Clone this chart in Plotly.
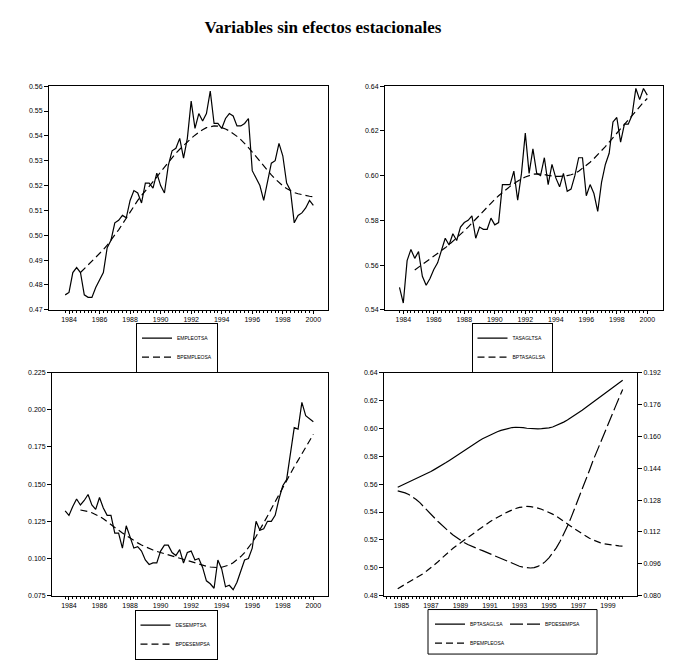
import plotly.graph_objects as go

# ---------------- data ----------------
quarters = [1983.75 + 0.25 * i for i in range(66)]   # quarterly dates 1983.75 .. 2000.00
trend_quarters = quarters[4:]                         # 1984.75 .. 2000.00

empleo_tsa = [0.476, 0.477, 0.485, 0.487, 0.485, 0.476, 0.475, 0.475, 0.479, 0.482,
              0.485, 0.495, 0.498, 0.505, 0.506, 0.508, 0.507, 0.514, 0.518, 0.517,
              0.513, 0.521, 0.521, 0.519, 0.525, 0.520, 0.517, 0.528, 0.534, 0.535,
              0.539, 0.531, 0.539, 0.554, 0.543, 0.549, 0.546, 0.549, 0.558, 0.545,
              0.545, 0.543, 0.547, 0.549, 0.548, 0.544, 0.544, 0.545, 0.547, 0.526,
              0.523, 0.520, 0.514, 0.522, 0.529, 0.530, 0.537, 0.532, 0.521, 0.518,
              0.505, 0.508, 0.509, 0.511, 0.514, 0.512]

bp_empleo = [0.4850, 0.4865, 0.4880, 0.4895, 0.4910, 0.4925, 0.4942, 0.4960, 0.4980, 0.5000,
             0.5022, 0.5045, 0.5070, 0.5095, 0.5118, 0.5140, 0.5160, 0.5178, 0.5196, 0.5214,
             0.5234, 0.5255, 0.5275, 0.5295, 0.5313, 0.5330, 0.5346, 0.5362, 0.5377, 0.5390,
             0.5403, 0.5415, 0.5425, 0.5433, 0.5438, 0.5440, 0.5439, 0.5435, 0.5428, 0.5420,
             0.5410, 0.5398, 0.5385, 0.5370, 0.5353, 0.5335, 0.5316, 0.5297, 0.5278, 0.5260,
             0.5243, 0.5227, 0.5212, 0.5199, 0.5188, 0.5179, 0.5172, 0.5167, 0.5163, 0.5160,
             0.5157, 0.5155]

tasagl_tsa = [0.550, 0.543, 0.562, 0.567, 0.563, 0.566, 0.555, 0.551, 0.554, 0.558,
              0.561, 0.566, 0.572, 0.569, 0.574, 0.571, 0.577, 0.579, 0.580, 0.582,
              0.572, 0.577, 0.576, 0.576, 0.581, 0.578, 0.579, 0.596, 0.596, 0.596,
              0.602, 0.589, 0.601, 0.619, 0.601, 0.612, 0.601, 0.600, 0.608, 0.596,
              0.605, 0.599, 0.595, 0.601, 0.593, 0.594, 0.600, 0.608, 0.608, 0.591,
              0.596, 0.592, 0.584, 0.597, 0.605, 0.610, 0.624, 0.626, 0.615, 0.623,
              0.623, 0.627, 0.639, 0.634, 0.639, 0.636]

bp_tasagl = [0.5578, 0.5590, 0.5602, 0.5614, 0.5626, 0.5638, 0.5650, 0.5663, 0.5677, 0.5691,
             0.5706, 0.5720, 0.5736, 0.5753, 0.5770, 0.5788, 0.5807, 0.5825, 0.5843, 0.5861,
             0.5878, 0.5894, 0.5910, 0.5925, 0.5939, 0.5952, 0.5964, 0.5976, 0.5986, 0.5994,
             0.6001, 0.6006, 0.6008, 0.6008, 0.6005, 0.6001, 0.5998, 0.5997, 0.5997, 0.5998,
             0.6000, 0.6004, 0.6010, 0.6020, 0.6032, 0.6045, 0.6060, 0.6076, 0.6093, 0.6111,
             0.6130, 0.6150, 0.6170, 0.6190, 0.6210, 0.6230, 0.6250, 0.6270, 0.6290, 0.6310,
             0.6328, 0.6345]

desemp_tsa = [0.132, 0.129, 0.135, 0.140, 0.136, 0.139, 0.143, 0.136, 0.133, 0.141,
              0.134, 0.129, 0.129, 0.117, 0.117, 0.107, 0.122, 0.114, 0.107, 0.108,
              0.105, 0.099, 0.096, 0.097, 0.097, 0.105, 0.109, 0.109, 0.104, 0.102,
              0.106, 0.097, 0.104, 0.105, 0.099, 0.100, 0.094, 0.085, 0.083, 0.080,
              0.099, 0.093, 0.081, 0.082, 0.079, 0.084, 0.091, 0.099, 0.100, 0.107,
              0.125, 0.119, 0.120, 0.125, 0.125, 0.129, 0.140, 0.149, 0.153, 0.170,
              0.188, 0.187, 0.205, 0.196, 0.194, 0.192]

bp_desemp = [0.1326, 0.1322, 0.1316, 0.1308, 0.1297, 0.1283, 0.1267, 0.1249, 0.1230, 0.1210,
             0.1190, 0.1171, 0.1153, 0.1136, 0.1120, 0.1105, 0.1091, 0.1078, 0.1067, 0.1057,
             0.1048, 0.1040, 0.1033, 0.1026, 0.1018, 0.1010, 0.1002, 0.0994, 0.0985, 0.0977,
             0.0969, 0.0961, 0.0954, 0.0948, 0.0943, 0.0940, 0.0939, 0.0941, 0.0947, 0.0957,
             0.0971, 0.0990, 0.1013, 0.1040, 0.1072, 0.1108, 0.1148, 0.1192, 0.1238, 0.1286,
             0.1334, 0.1382, 0.1430, 0.1480, 0.1526, 0.1572, 0.1617, 0.1660, 0.1705, 0.1748,
             0.1792, 0.1835]

even_years = [1984, 1986, 1988, 1990, 1992, 1994, 1996, 1998, 2000]
odd_years = [1985, 1987, 1989, 1991, 1993, 1995, 1997, 1999]

y1_ticks = [0.47, 0.48, 0.49, 0.50, 0.51, 0.52, 0.53, 0.54, 0.55, 0.56]
y2_ticks = [0.54, 0.56, 0.58, 0.60, 0.62, 0.64]
y3_ticks = [0.075, 0.100, 0.125, 0.150, 0.175, 0.200, 0.225]
y4_ticks = [0.48, 0.50, 0.52, 0.54, 0.56, 0.58, 0.60, 0.62, 0.64]
y5_ticks = [0.080, 0.096, 0.112, 0.128, 0.144, 0.160, 0.176, 0.192]

# ---------------- figure ----------------
OFF = 8                      # page body margin of the browser
W, H = 686 - OFF, 662 - OFF
FONT = "Liberation Sans"
solid = dict(color="black", width=1.2)
dashed = dict(color="black", width=1.2, dash="7px,4px")
longdash = dict(color="black", width=1.2, dash="13px,4px")

fig = go.Figure()
fig.add_trace(go.Scatter(x=quarters, y=empleo_tsa, name="EMPLEOTSA", mode="lines",
                         line=solid, xaxis="x", yaxis="y", legend="legend"))
fig.add_trace(go.Scatter(x=trend_quarters, y=bp_empleo, name="BPEMPLEOSA", mode="lines",
                         line=dashed, xaxis="x", yaxis="y", legend="legend"))
fig.add_trace(go.Scatter(x=quarters, y=tasagl_tsa, name="TASAGLTSA", mode="lines",
                         line=solid, xaxis="x2", yaxis="y2", legend="legend2"))
fig.add_trace(go.Scatter(x=trend_quarters, y=bp_tasagl, name="BPTASAGLSA", mode="lines",
                         line=dashed, xaxis="x2", yaxis="y2", legend="legend2"))
fig.add_trace(go.Scatter(x=quarters, y=desemp_tsa, name="DESEMPTSA", mode="lines",
                         line=solid, xaxis="x3", yaxis="y3", legend="legend3"))
fig.add_trace(go.Scatter(x=trend_quarters, y=bp_desemp, name="BPDESEMPSA", mode="lines",
                         line=dashed, xaxis="x3", yaxis="y3", legend="legend3"))
fig.add_trace(go.Scatter(x=trend_quarters, y=bp_tasagl, name="BPTASAGLSA", mode="lines",
                         line=solid, xaxis="x4", yaxis="y4", legend="legend4"))
fig.add_trace(go.Scatter(x=trend_quarters, y=bp_empleo, name="BPEMPLEOSA", mode="lines",
                         line=dashed, xaxis="x4", yaxis="y4", legend="legend4"))
fig.add_trace(go.Scatter(x=trend_quarters, y=bp_desemp, name="BPDESEMPSA", mode="lines",
                         line=longdash, xaxis="x4", yaxis="y5", legend="legend5"))


def px_x(v):
    return (v - OFF) / W


def px_y(v):
    return 1 - (v - OFF) / H


tickfont = dict(family=FONT, size=7, color="black")


def xaxis(dom, rng, years, anchor):
    return dict(domain=[px_x(dom[0]), px_x(dom[1])], range=rng, anchor=anchor,
                tickmode="array", tickvals=years, ticktext=[str(y) for y in years],
                ticks="outside", ticklen=3, tickwidth=1, tickcolor="black",
                showline=True, linecolor="black", linewidth=1, mirror=True,
                showgrid=False, zeroline=False, tickfont=tickfont,
                minor=dict(tickmode="array", tickvals=quarters, ticks="outside",
                           ticklen=2, tickwidth=1, tickcolor="black", showgrid=False))


def yaxis(dom, rng, ticks, fmt, anchor, **kw):
    d = dict(domain=[px_y(dom[1]), px_y(dom[0])], range=rng, anchor=anchor,
             tickmode="array", tickvals=ticks, tickformat=fmt,
             ticks="outside", ticklen=4, tickwidth=1, tickcolor="black",
             showline=True, linecolor="black", linewidth=1, mirror=True,
             showgrid=False, zeroline=False, tickfont=tickfont)
    d.update(kw)
    return d


top_rows = (83, 309)
bot_rows = (372.5, 598)

legend_common = dict(xanchor="center", yanchor="top", bordercolor="black", borderwidth=1,
                     bgcolor="white", font=dict(family=FONT, size=5, color="black"),
                     tracegroupgap=0, itemwidth=30)

fig.update_layout(
    width=W, height=H,
    margin=dict(l=0, r=0, t=0, b=0),
    paper_bgcolor="white", plot_bgcolor="white",
    title=dict(text="<b>Variables sin efectos estacionales</b>",
               font=dict(family="Liberation Serif", size=17, color="black"),
               x=px_x(323), xanchor="center", y=px_y(27), yanchor="middle",
               xref="paper", yref="container"),
    xaxis=xaxis((49, 328), [1982.69, 2000.96], even_years, "y"),
    yaxis=yaxis(top_rows, [0.47, 0.56], y1_ticks, ".2f", "x"),
    xaxis2=xaxis((385, 663), [1982.80, 2001.03], even_years, "y2"),
    yaxis2=yaxis(top_rows, [0.54, 0.64], y2_ticks, ".2f", "x2"),
    xaxis3=xaxis((52, 328), [1982.89, 2000.96], even_years, "y3"),
    yaxis3=yaxis(bot_rows, [0.075, 0.225], y3_ticks, ".3f", "x3"),
    xaxis4=xaxis((384, 637), [1983.82, 2000.97], odd_years, "y4"),
    yaxis4=yaxis(bot_rows, [0.48, 0.64], y4_ticks, ".2f", "x4"),
    yaxis5=dict(overlaying="y4", side="right", anchor="x4", range=[0.080, 0.192],
                tickmode="array", tickvals=y5_ticks, tickformat=".3f",
                ticks="outside", ticklen=4, tickwidth=1, tickcolor="black",
                showline=True, linecolor="black", linewidth=1,
                showgrid=False, zeroline=False, tickfont=tickfont),
    legend=dict(x=px_x(177), y=px_y(322), **legend_common),
    legend2=dict(x=px_x(512), y=px_y(322), **legend_common),
    legend3=dict(x=px_x(176), y=px_y(612), **legend_common),
    legend4=dict(x=px_x(430), y=px_y(612), xanchor="left", yanchor="top",
                 borderwidth=0, bgcolor="rgba(0,0,0,0)",
                 font=dict(family=FONT, size=5, color="black"), tracegroupgap=0, itemwidth=30),
    legend5=dict(x=px_x(505), y=px_y(612), xanchor="left", yanchor="top",
                 borderwidth=0, bgcolor="rgba(0,0,0,0)",
                 font=dict(family=FONT, size=5, color="black"), tracegroupgap=0, itemwidth=30),
    shapes=[dict(type="rect", xref="paper", yref="paper",
                 x0=px_x(428), x1=px_x(597), y0=px_y(657), y1=px_y(612),
                 line=dict(color="black", width=1), fillcolor="rgba(0,0,0,0)", layer="below")],
    showlegend=True,
)

fig.write_html("out.html")
